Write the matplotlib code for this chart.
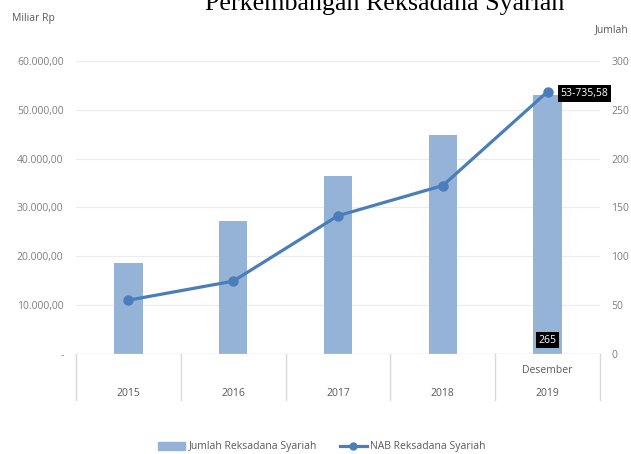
import matplotlib
matplotlib.use("Agg")
import matplotlib.pyplot as plt
import numpy as np

# --- data ---
years = ["2015", "2016", "2017", "2018", "2019"]
jumlah = [93, 136, 182, 224, 265]                               # right axis (bars)
nab = [11019.43, 14914.63, 28311.77, 34491.17, 53735.58]        # left axis (line)
left_ticks = [0, 10000, 20000, 30000, 40000, 50000, 60000]
left_labels = ["-", "10.000,00", "20.000,00", "30.000,00", "40.000,00", "50.000,00", "60.000,00"]
right_ticks = [0, 50, 100, 150, 200, 250, 300]

plt.rcParams['font.family'] = ['Open Sans', 'DejaVu Sans']
grey = '#7f7f7f'
bar_color = '#95b3d7'
line_color = '#4a7ebb'

fig = plt.figure(figsize=(6.31, 4.54), dpi=100)
ax = fig.add_axes([76/631, 1-354/454, 524/631, 293/454])
ax2 = ax.twinx()

x = np.arange(len(years))

# bars on the secondary (Jumlah) axis, gridlines behind them
for t in right_ticks[1:]:
    ax2.axhline(t, color='#ececec', lw=0.8, zorder=0)
ax2.bar(x, jumlah, width=0.27, color=bar_color, zorder=2)
ax2.set_ylim(0, 300)
ax2.set_yticks(right_ticks)
ax2.set_yticklabels([str(t) for t in right_ticks], fontsize=7.5, color=grey)
ax2.tick_params(axis='y', length=0, pad=8)

# line on the primary (NAB) axis, drawn above the bars
ax.set_zorder(ax2.get_zorder() + 1)
ax.patch.set_visible(False)
ax.plot(x, nab, color=line_color, lw=2.3, marker='o', ms=6.5, zorder=3)
ax.set_ylim(0, 60000)
ax.set_xlim(-0.5, 4.5)
ax.set_yticks(left_ticks)
ax.set_yticklabels(left_labels, fontsize=7.5, color=grey)
ax.tick_params(axis='y', length=0, pad=9)
ax.set_xticks([])

for a in (ax, ax2):
    for s in a.spines.values():
        s.set_visible(False)
ax.axhline(0, color='#d9d9d9', lw=1, zorder=1)

# category table under the axis
for xi in np.arange(-0.5, 5, 1):
    ax.plot([xi, xi], [0, -0.158], color='#d9d9d9', lw=1,
            transform=ax.get_xaxis_transform(), clip_on=False)
for i, y in enumerate(years):
    ax.text(i, -0.135, y, transform=ax.get_xaxis_transform(), ha='center',
            va='center', fontsize=7.5, color='#595959')
ax.text(4, -0.055, "Desember", transform=ax.get_xaxis_transform(), ha='center',
        va='center', fontsize=7.5, color='#595959')

# data labels
ax.text(4.12, nab[-1] - 400, "53-735,58", ha='left', va='center', fontsize=7.5,
        color='white', bbox=dict(boxstyle='square,pad=0.25', fc='black', ec='none'), zorder=5)
ax2.text(4, 14, "265", ha='center', va='center', fontsize=7.5, color='white',
         bbox=dict(boxstyle='square,pad=0.25', fc='black', ec='none'), zorder=5)

# axis titles and chart title
fig.text(12/631, 1-19/454, "Miliar Rp", fontsize=7.5, color='#595959', va='center')
fig.text(629/631, 1-30/454, "Jumlah", fontsize=7.5, color='#595959', va='center', ha='right')
fig.text(0.61, 1-10/454, "Perkembangan Reksadana Syariah", fontsize=18.7,
         family='Liberation Serif', ha='center', va='baseline')

# legend
handles = [plt.Rectangle((0, 0), 1, 1, color=bar_color),
           plt.Line2D([], [], color=line_color, lw=2.3, marker='o', ms=5)]
fig.legend(handles, ["Jumlah Reksadana Syariah", "NAB Reksadana Syariah"],
           loc='center', bbox_to_anchor=(0.51, 1-447/454), ncol=2, frameon=False,
           fontsize=7.5, labelcolor='#595959', handlelength=2.6, handletextpad=0.3,
           columnspacing=2.2)

fig.savefig("out.png", dpi=100)
